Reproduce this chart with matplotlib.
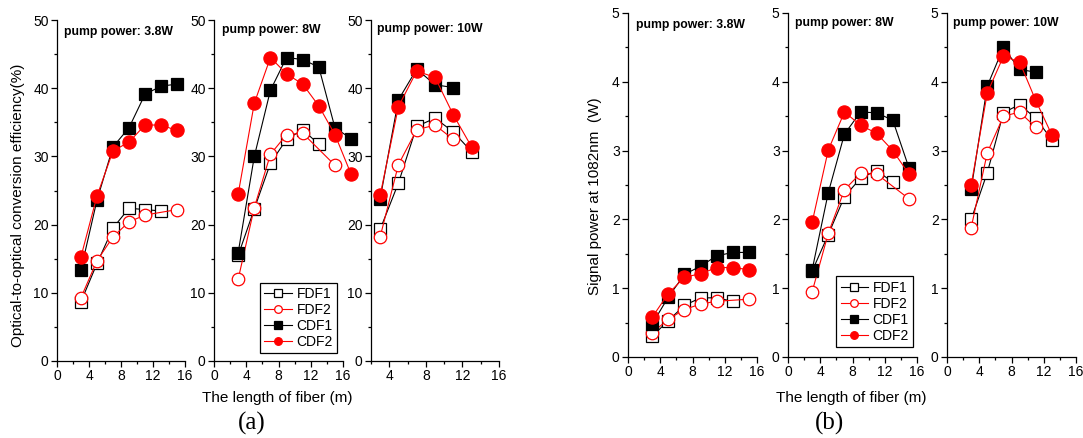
import matplotlib
matplotlib.use("Agg")
import matplotlib.pyplot as plt
from matplotlib.ticker import MultipleLocator
from matplotlib.lines import Line2D

plt.rcParams['font.family'] = ['Liberation Sans', 'DejaVu Sans']

# ---------------- data (a): optical-to-optical conversion efficiency (%) ----------------
a1_x = [3, 5, 7, 9, 11, 13, 15]
a1_fdf1_x = [3, 5, 7, 9, 11, 13]
a1_fdf1 = [8.7, 14.3, 19.5, 22.4, 22.2, 22.0]
a1_fdf2_x = [3, 5, 7, 9, 11, 15]
a1_fdf2 = [9.3, 14.7, 18.2, 20.4, 21.4, 22.2]
a1_cdf1 = [13.4, 23.6, 31.4, 34.2, 39.1, 40.3, 40.6]
a1_cdf2 = [15.3, 24.2, 30.8, 32.1, 34.6, 34.6, 33.8]

a2_x = [3, 5, 7, 9, 11, 13, 15, 17]
a2_fdf1_x = [3, 5, 7, 9, 11, 13]
a2_fdf1 = [15.5, 22.3, 29.0, 32.5, 33.9, 31.8]
a2_fdf2_x = [3, 5, 7, 9, 11, 15]
a2_fdf2 = [12.0, 22.5, 30.3, 33.2, 33.4, 28.7]
a2_cdf1 = [15.9, 30.0, 39.7, 44.5, 44.2, 43.1, 34.2, 32.6]
a2_cdf2 = [24.5, 37.8, 44.5, 42.1, 40.6, 37.4, 33.2, 27.4]

a3_x = [3, 5, 7, 9, 11, 13]
a3_fdf1 = [19.3, 26.1, 34.4, 35.6, 33.6, 30.7]
a3_fdf2_x = [3, 5, 7, 9, 11]
a3_fdf2 = [18.2, 28.8, 33.9, 34.6, 32.5]
a3_cdf1_x = [3, 5, 7, 9, 11]
a3_cdf1 = [23.8, 38.3, 42.8, 40.5, 40.1]
a3_cdf2 = [24.3, 37.3, 42.5, 41.6, 36.1, 31.4]

# ---------------- data (b): signal power at 1082 nm (W) ----------------
b1_x = [3, 5, 7, 9, 11, 13, 15]
b1_fdf1_x = [3, 5, 7, 9, 11, 13]
b1_fdf1 = [0.30, 0.53, 0.75, 0.86, 0.86, 0.81]
b1_fdf2_x = [3, 5, 7, 9, 11, 15]
b1_fdf2 = [0.35, 0.55, 0.69, 0.77, 0.81, 0.84]
b1_cdf1 = [0.48, 0.87, 1.20, 1.32, 1.47, 1.52, 1.52]
b1_cdf2 = [0.58, 0.92, 1.16, 1.21, 1.30, 1.30, 1.27]

b2_x = [3, 5, 7, 9, 11, 13, 15]
b2_fdf1_x = [3, 5, 7, 9, 11, 13]
b2_fdf1 = [1.25, 1.78, 2.33, 2.60, 2.71, 2.54]
b2_fdf2_x = [3, 5, 7, 9, 11, 15]
b2_fdf2 = [0.95, 1.80, 2.43, 2.67, 2.66, 2.30]
b2_cdf1 = [1.27, 2.39, 3.24, 3.56, 3.55, 3.44, 2.75]
b2_cdf2 = [1.96, 3.01, 3.56, 3.37, 3.25, 3.00, 2.66]

b3_x = [3, 5, 7, 9, 11, 13]
b3_fdf1 = [2.00, 2.68, 3.55, 3.67, 3.47, 3.16]
b3_fdf2_x = [3, 5, 7, 9, 11]
b3_fdf2 = [1.88, 2.97, 3.50, 3.56, 3.34]
b3_cdf1_x = [3, 5, 7, 9, 11]
b3_cdf1 = [2.44, 3.94, 4.50, 4.18, 4.14]
b3_cdf2 = [2.50, 3.84, 4.37, 4.29, 3.73, 3.23]

series_labels = ['FDF1', 'FDF2', 'CDF1', 'CDF2']
titles = ['pump power: 3.8W', 'pump power: 8W', 'pump power: 10W']
x_ticks = [0, 4, 8, 12, 16]

W, H = 1083, 438
fig = plt.figure(figsize=(W / 100, H / 100), dpi=100)

def ax_at(x0, x1, ytop, ybot):
    return fig.add_axes([x0 / W, 1 - ybot / H, (x1 - x0) / W, (ybot - ytop) / H])

styles = [
    dict(color='black', marker='s', mfc='white', mec='black', ms=8),
    dict(color='red', marker='o', mfc='white', mec='red', ms=9),
    dict(color='black', marker='s', mfc='black', mec='black', ms=8.5),
    dict(color='red', marker='o', mfc='red', mec='red', ms=9.5),
]

def draw(ax, data, ylim, ymaj, ymin, xlim, title, tpos):
    for (xs, ys), st in zip(data, styles):
        ax.plot(xs, ys, lw=0.8, mew=0.9, clip_on=False, **st)
    ax.set_xlim(*xlim)
    ax.set_ylim(*ylim)
    ax.spines['top'].set_visible(False)
    ax.spines['right'].set_visible(False)
    for s in ('left', 'bottom'):
        ax.spines[s].set_linewidth(0.9)
    ax.xaxis.set_major_locator(MultipleLocator(4))
    ax.xaxis.set_minor_locator(MultipleLocator(2))
    ax.yaxis.set_major_locator(MultipleLocator(ymaj))
    ax.yaxis.set_minor_locator(MultipleLocator(ymin))
    ax.tick_params(which='major', direction='out', length=4, width=0.9, labelsize=10, pad=2)
    ax.tick_params(which='minor', direction='out', length=2.2, width=0.9)
    ax.text(tpos[0], tpos[1], title, transform=ax.transAxes, fontsize=8.8,
            fontweight='bold', ha='left', va='center')

# (a) panels
a_axes = [ax_at(57, 185, 20, 361), ax_at(214, 343, 20, 361), ax_at(371, 499, 20, 361)]
draw(a_axes[0], [(a1_fdf1_x, a1_fdf1), (a1_fdf2_x, a1_fdf2), (a1_x, a1_cdf1), (a1_x, a1_cdf2)],
     (0, 50), 10, 5, (0, 16), titles[0], (0.055, 0.965))
draw(a_axes[1], [(a2_fdf1_x, a2_fdf1), (a2_fdf2_x, a2_fdf2), (a2_x, a2_cdf1), (a2_x, a2_cdf2)],
     (0, 50), 10, 5, (0, 16), titles[1], (0.06, 0.97))
draw(a_axes[2], [(a3_x, a3_fdf1), (a3_fdf2_x, a3_fdf2), (a3_cdf1_x, a3_cdf1), (a3_x, a3_cdf2)],
     (0, 50), 10, 5, (2, 16), titles[2], (0.047, 0.974))

# (b) panels
b_axes = [ax_at(628, 757, 13, 357), ax_at(788, 917, 13, 357), ax_at(947, 1076, 13, 357)]
draw(b_axes[0], [(b1_fdf1_x, b1_fdf1), (b1_fdf2_x, b1_fdf2), (b1_x, b1_cdf1), (b1_x, b1_cdf2)],
     (0, 5), 1, 0.5, (0, 16), titles[0], (0.062, 0.965))
draw(b_axes[1], [(b2_fdf1_x, b2_fdf1), (b2_fdf2_x, b2_fdf2), (b2_x, b2_cdf1), (b2_x, b2_cdf2)],
     (0, 5), 1, 0.5, (0, 16), titles[1], (0.054, 0.971))
draw(b_axes[2], [(b3_x, b3_fdf1), (b3_fdf2_x, b3_fdf2), (b3_cdf1_x, b3_cdf1), (b3_x, b3_cdf2)],
     (0, 5), 1, 0.5, (0, 16), titles[2], (0.047, 0.971))

for ax in a_axes + b_axes:
    ax.set_xticks(x_ticks)
a_axes[2].set_xlim(2, 16)

# legends
def add_legend(ax, anchor):
    handles = [Line2D([], [], lw=0.8, mew=0.9, **{**st, 'ms': 5.5}) for st in styles]
    leg = ax.legend(handles, series_labels, loc='lower right', bbox_to_anchor=anchor,
                    fontsize=10, frameon=True, fancybox=False, edgecolor='black',
                    framealpha=1, handlelength=2.0, handletextpad=0.3,
                    labelspacing=0.15, borderpad=0.3, borderaxespad=0)
    leg.get_frame().set_linewidth(0.9)

add_legend(a_axes[1], (0.953, 0.023))
add_legend(b_axes[1], (0.969, 0.029))

# axis labels
fig.text(18 / W, 1 - 205 / H, 'Optical-to-optical conversion efficiency(%)', rotation=90,
         ha='center', va='center', fontsize=11)
fig.text(595 / W, 1 - 196 / H, 'Signal power at 1082nm  (W)', rotation=90,
         ha='center', va='center', fontsize=11)
fig.text(277 / W, 1 - 398 / H, 'The length of fiber (m)', ha='center', va='center', fontsize=11)
fig.text(851 / W, 1 - 398 / H, 'The length of fiber (m)', ha='center', va='center', fontsize=11)
fig.text(252 / W, 1 - 423 / H, '(a)', ha='center', va='center', fontsize=18,
         family=['Liberation Serif', 'DejaVu Serif'])
fig.text(829 / W, 1 - 423 / H, '(b)', ha='center', va='center', fontsize=18,
         family=['Liberation Serif', 'DejaVu Serif'])

fig.savefig('out.png', dpi=100)
